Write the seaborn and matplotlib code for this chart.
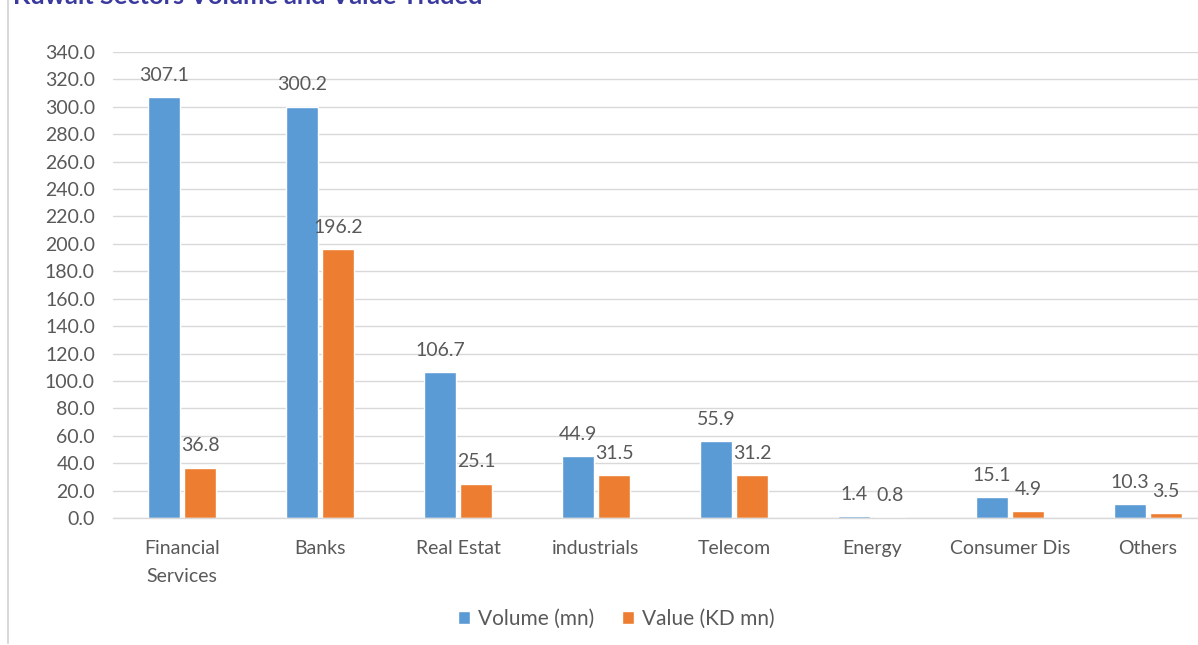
import matplotlib
matplotlib.use("Agg")
import matplotlib.pyplot as plt
from matplotlib.lines import Line2D
import seaborn as sns
import pandas as pd

# Sector data
sectors = ["Financial\nServices", "Banks", "Real Estat", "industrials",
           "Telecom", "Energy", "Consumer Dis", "Others"]
volume_mn = [307.1, 300.2, 106.7, 44.9, 55.9, 1.4, 15.1, 10.3]
value_kd_mn = [36.8, 196.2, 25.1, 31.5, 31.2, 0.8, 4.9, 3.5]
series_names = ["Volume (mn)", "Value (KD mn)"]
y_ticks = list(range(0, 341, 20))

sns.set_theme(style="white")
plt.rcParams["font.family"] = ["Lato", "DejaVu Sans"]

df = pd.DataFrame({
    "sector": sectors * 2,
    "amount": volume_mn + value_kd_mn,
    "series": [series_names[0]] * len(sectors) + [series_names[1]] * len(sectors),
})

text_color = "#595959"
grid_color = "#D9D9D9"
colors = ["#5B9BD5", "#ED7D31"]
fs = 14

fig = plt.figure(figsize=(11.98, 6.45), dpi=100)
ax = fig.add_axes([113 / 1198, 1 - 518 / 645, 1104 / 1198, 466 / 645])

sns.barplot(data=df, x="sector", y="amount", hue="series", order=sectors,
            hue_order=series_names, palette=colors, width=0.52, gap=0.11,
            saturation=1, ax=ax, legend=True)

ax.set_xlim(-0.5, 7.5)
ax.set_ylim(0, 340)
ax.set_yticks(y_ticks)
ax.set_yticklabels([f"{v:.1f}" for v in y_ticks])
ax.yaxis.grid(True, color=grid_color, linewidth=1)
ax.set_axisbelow(True)
for side in ["top", "right", "left"]:
    ax.spines[side].set_visible(False)
ax.spines["bottom"].set_color(grid_color)
ax.spines["bottom"].set_linewidth(1)
ax.set_xlabel("")
ax.set_ylabel("")
ax.tick_params(axis="y", length=0, pad=13, labelsize=fs, labelcolor=text_color)
ax.tick_params(axis="x", length=0, pad=16, labelsize=fs, labelcolor=text_color)
for lbl in ax.get_xticklabels():
    lbl.set_linespacing(1.75)

for container in ax.containers:
    ax.bar_label(container, fmt="%.1f", padding=9.5, fontsize=fs, color=text_color)

handles, labels = ax.get_legend_handles_labels()
ax.legend_.remove()
fig.legend(handles, labels, loc="center", bbox_to_anchor=(616 / 1198, 1 - 619 / 645),
           ncol=2, frameon=False, handlelength=0.6, handleheight=0.6,
           handletextpad=0.35, columnspacing=1.35, fontsize=15,
           labelcolor=text_color)

# Chart title, partly above the top edge
fig.text(13 / 1198, 1 - 4 / 645, "Kuwait Sectors Volume and Value Traded",
         ha="left", va="baseline", fontsize=18.3, fontweight="bold",
         color="#3A3A9E")

# Chart frame edge on the left
fig.add_artist(Line2D([8 / 1198, 8 / 1198], [1 - 643 / 645, 1.0],
                      transform=fig.transFigure, color=grid_color, linewidth=1.5))

fig.savefig("out.png", dpi=100)
